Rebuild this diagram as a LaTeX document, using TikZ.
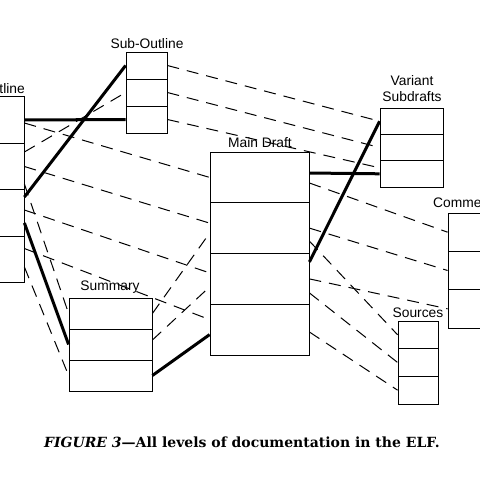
\documentclass[tikz,border=0pt]{standalone}
\usepackage{fontspec}
\setmainfont{Liberation Serif}
\setsansfont{Liberation Sans}
\newfontfamily\capfont[Ligatures=TeX]{DejaVu Serif}
\begin{document}
\begin{tikzpicture}[x=1pt,y=-1pt,
  cell/.style={draw,fill=white,line width=.8pt,inner sep=0pt},
  lbl/.style={font=\sffamily\fontsize{13.8}{16}\selectfont,inner sep=0pt},
  link/.style={line width=1pt,dash pattern=on 12pt off 8pt},
  main/.style={line width=3pt}]
\useasboundingbox (0,0) rectangle (480,480);
\clip (0,0) rectangle (480,480);
% boxes, one node per cell
\foreach \i/\y in {1/120,2/166.5,3/213,4/259.5}
  \node [cell,minimum width=50pt,minimum height=46.5pt] (ol\i) at (-1,\y) {};
\foreach \i/\y in {1/65.5,2/92.5,3/119.5}
  \node [cell,minimum width=41pt,minimum height=27pt] (so\i) at (146.5,\y) {};
\foreach \i/\y in {1/177.4,2/228.1,3/278.9,4/329.6}
  \node [cell,minimum width=99pt,minimum height=50.75pt] (md\i) at (259.5,\y) {};
\foreach \i/\y in {1/121.2,2/147.5,3/173.8}
  \node [cell,minimum width=63pt,minimum height=26.33pt] (va\i) at (411.5,\y) {};
\foreach \i/\y in {1/232.2,2/270.5,3/308.8}
  \node [cell,minimum width=80pt,minimum height=38.33pt] (co\i) at (488,\y) {};
\foreach \i/\y in {1/313.5,2/344.5,3/375.5}
  \node [cell,minimum width=83pt,minimum height=31pt] (sm\i) at (110.5,\y) {};
\foreach \i/\y in {1/334.8,2/362.5,3/390.2}
  \node [cell,minimum width=40pt,minimum height=27.67pt] (sr\i) at (418,\y) {};
% labels
\node [lbl,anchor=base east] (olt) at (25,93) {Outline};
\node [lbl,anchor=base] (sot) at (147,48) {Sub-Outline};
\node [lbl,anchor=base] (mdt) at (260,147) {Main Draft};
\node [lbl,align=center] (vat) at (412,89) {Variant\\Subdrafts};
\node [lbl,anchor=base west] (cot) at (433,207) {Comments};
\node [lbl,anchor=base] (smt) at (110,290) {Summary};
\node [lbl,anchor=base] (srt) at (418,317) {Sources};
% solid links
\draw [main] (ol1.east) -- (so3.west);
\draw [main] ([yshift=16pt]ol3.east) -- (so1.west);
\draw [main] ([yshift=-10pt]ol3.east) -- (sm2.west);
\draw [main] (sm3.east) -- ([yshift=-5pt]md4.west);
\draw [main] ([yshift=4.4pt]md1.east) -- (va3.west);
\draw [main] ([yshift=17pt]md3.east) -- (va1.west);
% dashed links
\draw [link] (so1.east) -- (va1.west);
\draw [link] (so2.east) -- (va2.west);
\draw [link] (so3.east) -- ([yshift=6pt]va3.west);
\draw [link] ([yshift=14.5pt]ol2.east) -- (so2.west);
\draw [link] ([yshift=-3pt]ol1.east) -- (md1.west);
\draw [link] (ol2.east) -- ([yshift=5pt]md2.west);
\draw [link] ([yshift=3pt]ol3.east) -- ([yshift=6pt]md3.west);
\draw [link] ([yshift=11pt]ol4.east) -- ([yshift=10pt]md4.west);
\draw [link] ([yshift=-17.5pt]ol2.east) -- (sm1.west);
\draw [link] ([yshift=-7.5pt]ol4.east) -- (sm3.west);
\draw [link] (sm1.east) -- ([yshift=-5pt]md2.west);
\draw [link] ([yshift=4.5pt]sm2.east) -- ([yshift=-8pt]md3.west);
\draw [link] ([yshift=-5.6pt]md1.east) -- (co1.west);
\draw [link] (md2.east) -- (co2.west);
\draw [link] (md3.east) -- (co3.west);
\draw [link] ([yshift=-13pt]md2.east) -- (sr1.west);
\draw [link] ([yshift=-14pt]md3.east) -- (sr2.west);
\draw [link] ([yshift=-2.4pt]md4.east) -- (sr3.west);
% caption
\node [font=\capfont\bfseries\fontsize{14}{16}\selectfont,anchor=base] (cap) at (242,447)
  {\textit{FIGURE 3}---All levels of documentation in the ELF.};
\end{tikzpicture}
\end{document}
